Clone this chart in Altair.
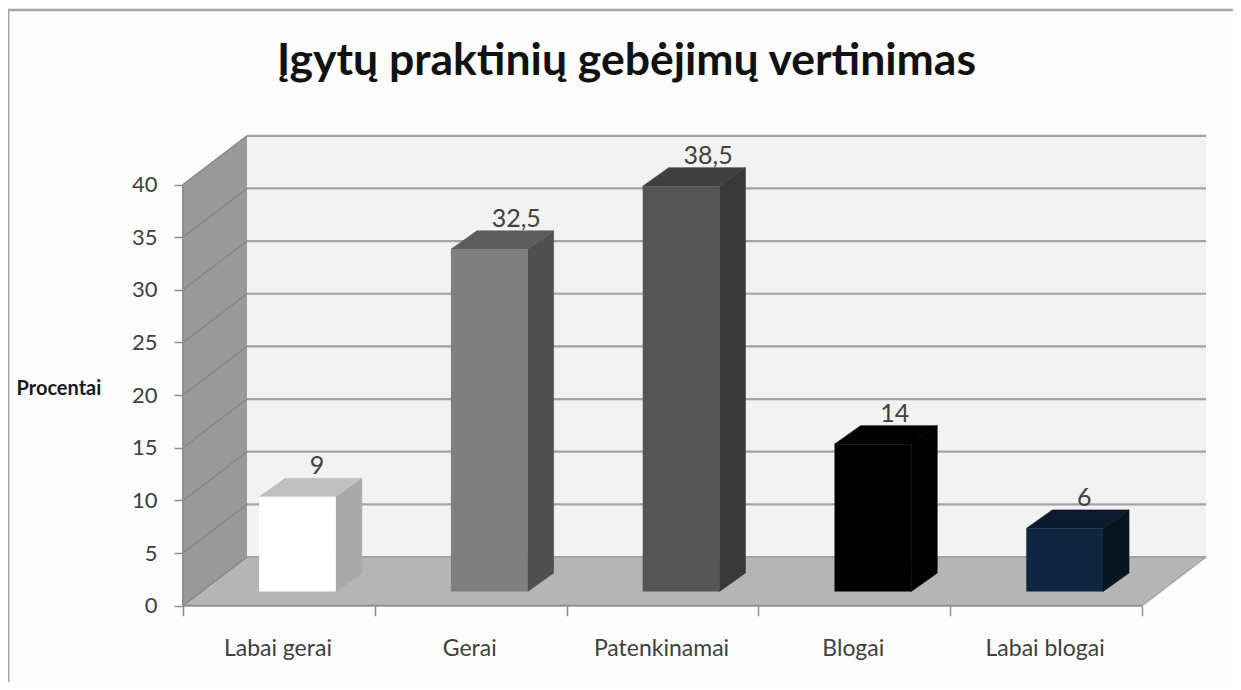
import altair as alt
import pandas as pd

categories = ["Labai gerai", "Gerai", "Patenkinamai", "Blogai", "Labai blogai"]
values = [9, 32.5, 38.5, 14, 6]
value_labels = ["9", "32,5", "38,5", "14", "6"]
front_colors = ["#ffffff", "#7f7f7f", "#555555", "#000000", "#10253f"]
top_colors = ["#c0c0c0", "#5c5c5c", "#404040", "#000000", "#0b1a2d"]
side_colors = ["#a9a9a9", "#505050", "#383838", "#000000", "#09151f"]
y_ticks = [0, 5, 10, 15, 20, 25, 30, 35, 40]
x_ticks = [0, 1, 2, 3, 4, 5]

W, H = 1225, 674
PX_PER_CAT = 191.8
PX_PER_VAL = 10.53
AX_X = 183 - 8
AX_Y = 605.7 - 8
DEPTH_X = 64 / PX_PER_CAT
DEPTH_Y = 48.7 / PX_PER_VAL
BAR_HALF = 0.2
BAR_D0, BAR_D1 = 0.29, 0.67
SIDE_X = 26 / PX_PER_CAT
FONT = "Lato"

xs = alt.Scale(domain=[-AX_X / PX_PER_CAT, (W - AX_X) / PX_PER_CAT], nice=False, zero=False)
ys = alt.Scale(domain=[(AX_Y - H) / PX_PER_VAL, AX_Y / PX_PER_VAL], nice=False, zero=False)


def X(f="x", **k):
    return alt.X(f"{f}:Q", scale=xs, axis=None, **k)


def Y(f="y", **k):
    return alt.Y(f"{f}:Q", scale=ys, axis=None, stack=None, **k)


# Walls and floor
ymax = max(y_ticks)
xmax = max(x_ticks)
back_wall = alt.Chart(pd.DataFrame([{"x": DEPTH_X, "x2": xmax + DEPTH_X, "y": DEPTH_Y, "y2": ymax + DEPTH_Y}])).mark_rect(color="#f2f2f2").encode(
    x=X(), x2="x2:Q", y=Y(), y2="y2:Q")
left_wall = alt.Chart(pd.DataFrame([
    {"x": 0, "y": 0, "y2": ymax},
    {"x": DEPTH_X, "y": DEPTH_Y, "y2": ymax + DEPTH_Y},
])).mark_area(color="#999999").encode(x=X(), y=Y(), y2="y2:Q")
floor = alt.Chart(pd.DataFrame([
    {"y": 0, "x": 0, "x2": xmax},
    {"y": DEPTH_Y, "x": DEPTH_X, "x2": xmax + DEPTH_X},
])).mark_area(color="#b5b5b5", orient="horizontal").encode(x=X(), x2="x2:Q", y=Y())

# Gridlines
grid_back = alt.Chart(pd.DataFrame({"y": [v + DEPTH_Y for v in y_ticks]})).mark_rule(color="#a3a3a3", strokeWidth=2.2).encode(
    x=alt.datum(DEPTH_X, scale=xs, axis=None), x2=alt.datum(xmax + DEPTH_X), y=Y())
grid_side_rows = []
for v in y_ticks:
    grid_side_rows += [{"k": v, "x": 0, "y": v}, {"k": v, "x": DEPTH_X, "y": v + DEPTH_Y}]
grid_side = alt.Chart(pd.DataFrame(grid_side_rows)).mark_line(color="#868686", strokeWidth=1.2).encode(
    x=X(), y=Y(), detail="k:N")
edge_right = alt.Chart(pd.DataFrame([{"x": xmax, "y": 0}, {"x": xmax + DEPTH_X, "y": DEPTH_Y}])).mark_line(
    color="#a6a6a6", strokeWidth=1.5).encode(x=X(), y=Y())
edge_front = alt.Chart(pd.DataFrame([{"y": 0}])).mark_rule(color="#8f8f8f", strokeWidth=2).encode(
    x=alt.datum(0, scale=xs, axis=None), x2=alt.datum(xmax), y=Y())
edge_left = alt.Chart(pd.DataFrame([{"y": 0, "y2": ymax}])).mark_rule(color="#8f8f8f", strokeWidth=2).encode(
    x=alt.datum(0, scale=xs, axis=None), y=Y(), y2="y2:Q")

# Axes (ticks and tick labels only)
axis_holder = alt.Chart(pd.DataFrame({"x": [0], "y": [0]})).mark_point(opacity=0).encode(
    x=alt.X("x:Q", scale=xs, title=None, axis=alt.Axis(
        values=x_ticks, labels=False, domain=False, grid=False, ticks=True, tickSize=10,
        tickColor="#8f8f8f", tickWidth=1.5, offset=-(H - AX_Y), title=None)),
    y=alt.Y("y:Q", scale=ys, axis=alt.Axis(
        values=y_ticks, domain=False, grid=False, ticks=True, tickSize=9, tickColor="#8f8f8f", tickWidth=1.5,
        labelPadding=17, labelFont=FONT, labelFontSize=22, labelColor="#404040", offset=-AX_X,
        title="Procentai", titleFont=FONT, titleFontSize=20, titleFontWeight="bold", titleColor="#1a1a1a",
        titleAngle=0, titleAlign="left", titleBaseline="middle", titleX=16 - 183, titleY=380)),
)

# Bars
front_rows, top_rows, side_rows = [], [], []
for i, (c, v) in enumerate(zip(categories, values)):
    x0 = i + 0.5 - BAR_HALF + BAR_D0 * DEPTH_X
    x1 = i + 0.5 + BAR_HALF + BAR_D0 * DEPTH_X
    base = BAR_D0 * DEPTH_Y
    sy = (BAR_D1 - BAR_D0) * DEPTH_Y
    front_rows.append({"c": c, "x": x0, "x2": x1, "y": base, "y2": v + base, "fill": front_colors[i]})
    top_rows += [
        {"c": c, "y": v + base, "x": x0, "x2": x1, "fill": top_colors[i]},
        {"c": c, "y": v + base + sy, "x": x0 + SIDE_X, "x2": x1 + SIDE_X, "fill": top_colors[i]},
    ]
    side_rows += [
        {"c": c, "x": x1, "y": base, "y2": v + base, "fill": side_colors[i]},
        {"c": c, "x": x1 + SIDE_X, "y": base + sy, "y2": v + base + sy, "fill": side_colors[i]},
    ]

nofill = alt.Color("fill:N", scale=None, legend=None)
nostroke = alt.Stroke("fill:N", scale=None, legend=None)
bar_front = alt.Chart(pd.DataFrame(front_rows)).mark_rect().encode(x=X(), x2="x2:Q", y=Y(), y2="y2:Q", color=nofill)
bar_top = alt.Chart(pd.DataFrame(top_rows)).mark_area(orient="horizontal", strokeWidth=0.6).encode(
    x=X(), x2="x2:Q", y=Y(), fill=alt.Fill("fill:N", scale=None, legend=None), stroke=nostroke, detail="c:N")
bar_side = alt.Chart(pd.DataFrame(side_rows)).mark_area(strokeWidth=0.6).encode(
    x=X(), y=Y(), y2="y2:Q", fill=alt.Fill("fill:N", scale=None, legend=None), stroke=nostroke, detail="c:N")

# Text
label_rows = []
for i, (lab, v) in enumerate(zip(value_labels, values)):
    shift_px = 17 + 2.5 * len(lab)
    label_rows.append({
        "label": lab,
        "x": i + 0.5 + BAR_D0 * DEPTH_X + shift_px / PX_PER_CAT,
        "y": v + BAR_D1 * DEPTH_Y,
    })
value_text = alt.Chart(pd.DataFrame(label_rows)).mark_text(
    font=FONT, fontSize=25, color="#404040", baseline="alphabetic", dy=-4).encode(x=X(), y=Y(), text="label:N")
cat_text = alt.Chart(pd.DataFrame({"x": [i + 0.5 for i in range(len(categories))], "label": categories})).mark_text(
    font=FONT, fontSize=23, color="#404040", baseline="alphabetic", dx=-1).encode(
    x=X(), y=alt.value(656 - 8), text="label:N")

frame_left = alt.Chart(pd.DataFrame({"x": [0]})).mark_rule(color="#a6a6a6", strokeWidth=3).encode(
    x=alt.value(0), y=alt.value(2), y2=alt.value(H))
frame_top = alt.Chart(pd.DataFrame({"x": [0]})).mark_rule(color="#a6a6a6", strokeWidth=2.5).encode(
    y=alt.value(2), x=alt.value(0), x2=alt.value(W))

chart = alt.layer(
    frame_left, frame_top, back_wall, left_wall, floor, grid_back, grid_side, edge_right, edge_front, edge_left,
    axis_holder, bar_side, bar_top, bar_front, value_text, cat_text,
).resolve_axis(x="independent", y="independent").properties(
    width=W, height=H, padding=0, background="#fdfdfd",
    autosize=alt.AutoSizeParams(type="none"),
    title=alt.TitleParams(
        "Įgytų praktinių gebėjimų vertinimas", font=FONT, fontSize=44.5, fontWeight="bold", color="#111111",
        anchor="middle", dx=6, dy=111, offset=0, baseline="alphabetic"),
).configure_view(stroke=None)

chart.save("out.html", embed_options={"renderer": "svg", "actions": False})
